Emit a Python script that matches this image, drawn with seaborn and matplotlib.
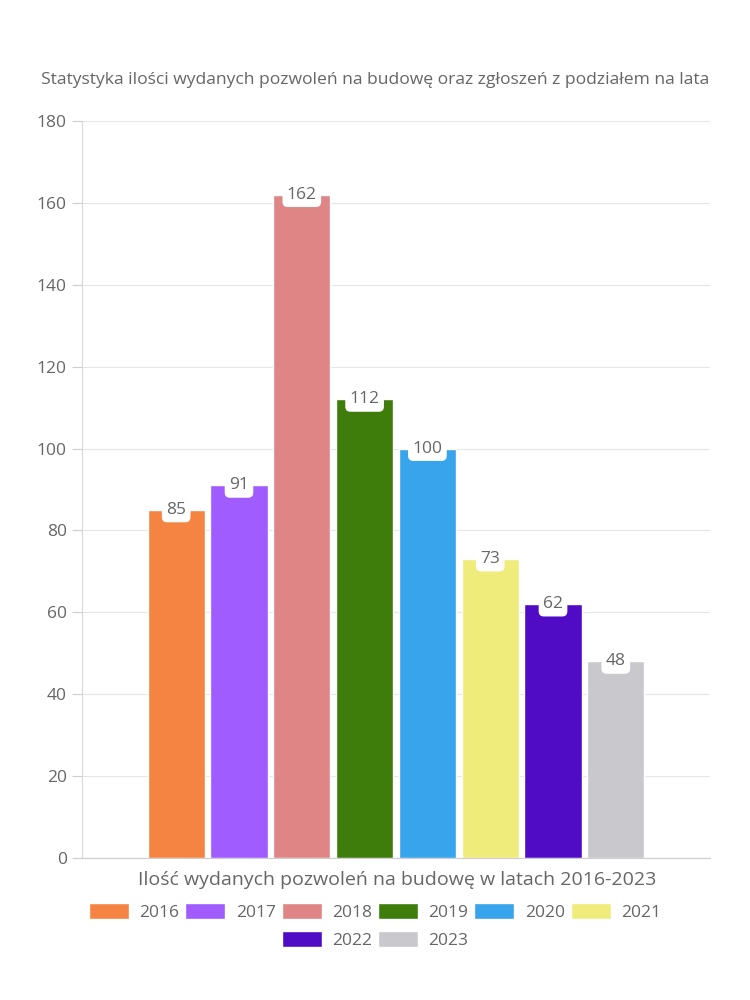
import matplotlib
matplotlib.use("Agg")
import matplotlib.pyplot as plt
import seaborn as sns
import pandas as pd
from matplotlib.patches import Patch

years = ["2016", "2017", "2018", "2019", "2020", "2021", "2022", "2023"]
values = [85, 91, 162, 112, 100, 73, 62, 48]
colors = ["#F58442", "#A05CFF", "#E08585", "#3E7D0C", "#38A4EB", "#F0EC7C", "#500CC4", "#C9C9CD"]
category = "Ilość wydanych pozwoleń na budowę w latach 2016-2023"
title = "Statystyka ilości wydanych pozwoleń na budowę oraz zgłoszeń z podziałem na lata"
yticks = [0, 20, 40, 60, 80, 100, 120, 140, 160, 180]

df = pd.DataFrame({"cat": [category] * len(years), "year": years, "value": values})

sns.set_theme(style="white")
plt.rcParams["font.family"] = ["Open Sans", "DejaVu Sans"]
txt = "#666666"

fig = plt.figure(figsize=(7.5, 10), dpi=100)
ax = fig.add_axes([0.1093, 0.142, 0.8374, 0.737])

sns.barplot(data=df, x="cat", y="value", hue="year", palette=colors,
            width=0.8, gap=0.09, ax=ax, legend=False, saturation=1)

ax.set_ylim(0, 180)
ax.set_xlim(-0.5, 0.5)
ax.set_yticks(yticks)
ax.set_yticklabels([str(t) for t in yticks], color=txt, fontsize=12.5)
ax.set_xticks([])
ax.set_xlabel("")
ax.set_ylabel("")
ax.grid(axis="y", color="#e6e6e6", linewidth=0.8)
ax.set_axisbelow(True)
ax.tick_params(axis="y", length=7, color="#cccccc", width=0.8, pad=4, left=True)
for s in ["top", "right"]:
    ax.spines[s].set_visible(False)
ax.spines["left"].set_color("#d9d9d9")
ax.spines["bottom"].set_color("#cccccc")
ax.spines["left"].set_linewidth(0.8)
ax.spines["bottom"].set_linewidth(0.8)

for p, v in zip(ax.patches, values):
    xc = p.get_x() + p.get_width() / 2
    ax.text(xc, v, str(v), ha="center", va="center", color=txt, fontsize=12.5,
            bbox=dict(boxstyle="round,pad=0.25,rounding_size=0.3", fc="white", ec="none"))

fig.text(0.5, 0.92, title, ha="center", va="center", color=txt, fontsize=12.6)
fig.text(0.529, 0.12, category, ha="center", va="center", color=txt, fontsize=14)

h1 = [Patch(facecolor=c, label=y) for y, c in zip(years[:6], colors[:6])]
h2 = [Patch(facecolor=c, label=y) for y, c in zip(years[6:], colors[6:])]
leg_kw = dict(frameon=False, handlelength=2.3, handleheight=1.05, handletextpad=0.6,
              columnspacing=0.35, fontsize=12.5, labelcolor=txt, borderpad=0.2)
fig.legend(handles=h1, ncol=6, loc="center", bbox_to_anchor=(0.5, 0.088), **leg_kw)
fig.legend(handles=h2, ncol=2, loc="center", bbox_to_anchor=(0.5, 0.06), **leg_kw)

fig.savefig("out.png", dpi=100)
